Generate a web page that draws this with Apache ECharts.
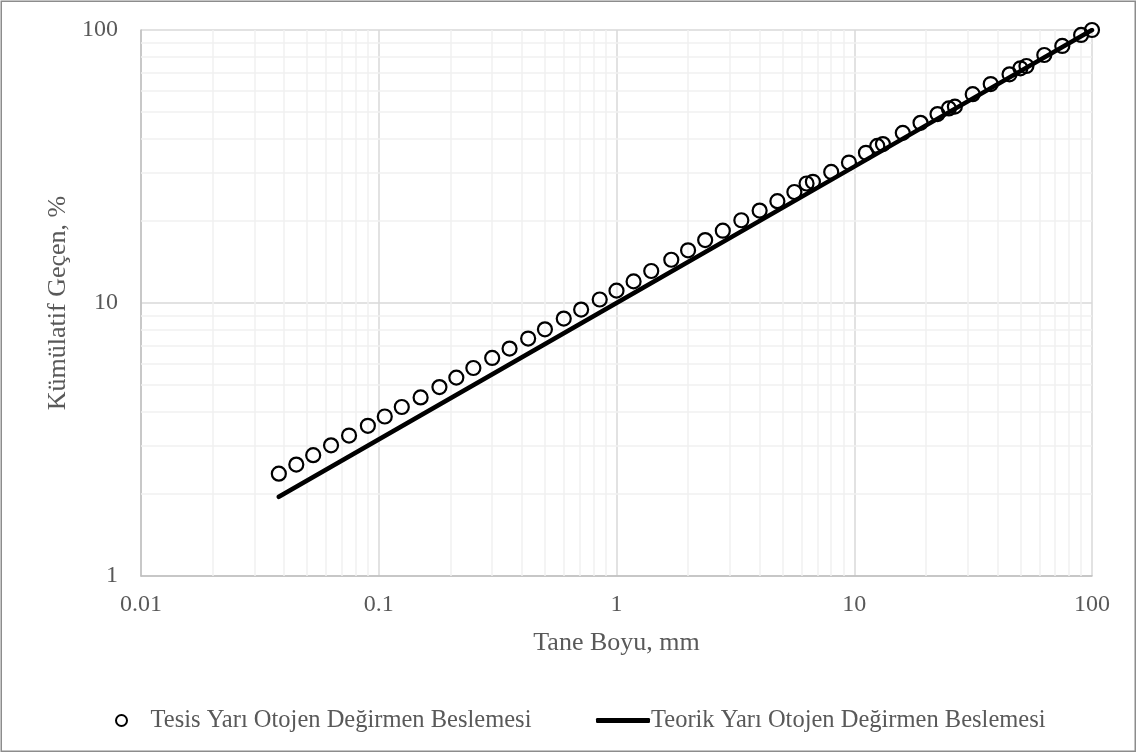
<!DOCTYPE html>
<html>
<head>
<meta charset="utf-8">
<script src="https://cdn.jsdelivr.net/npm/echarts@6/dist/echarts.min.js"></script>
<style>
html,body{margin:0;padding:0;background:#fff;}
#chart{width:1136px;height:752px;}
</style>
</head>
<body>
<div id="chart"></div>
<script>
// Particle sizes (mm) of the plant feed sieve analysis
var sizesPlant = [0.038, 0.045, 0.053, 0.063, 0.075, 0.090, 0.106, 0.125, 0.150, 0.180, 0.212,
  0.250, 0.300, 0.355, 0.425, 0.500, 0.600, 0.710, 0.850, 1.00, 1.18, 1.40, 1.70, 2.00, 2.36,
  2.80, 3.35, 4.00, 4.75, 5.60, 6.30, 6.70, 8.00, 9.50, 11.2, 12.5, 13.2, 16.0, 19.0, 22.4,
  25.0, 26.5, 31.5, 37.5, 45.0, 50.0, 53.0, 63.0, 75.0, 90.0, 100];
// Cumulative passing (%) of the plant feed
var passPlant = [2.37, 2.56, 2.77, 3.01, 3.27, 3.55, 3.84, 4.16, 4.51, 4.92, 5.33,
  5.78, 6.29, 6.81, 7.41, 8.01, 8.77, 9.46, 10.3, 11.1, 12.0, 13.1, 14.4, 15.6, 17.0,
  18.4, 20.1, 21.8, 23.6, 25.5, 27.4, 27.8, 30.2, 32.7, 35.5, 37.6, 38.2, 42.0, 45.7, 49.2,
  51.6, 52.4, 58.2, 63.4, 68.8, 72.4, 73.8, 81.0, 87.4, 95.9, 100];
// Theoretical curve points (mm, %)
var sizesTheory = [0.038, 1, 10, 100];
var passTheory = [1.95, 10, 31.6, 100];
// Axis tick labels
var xTickLabels = ['0.01', '0.1', '1', '10', '100'];
var yTickLabels = ['1', '10', '100'];
// Minor gridline positions
var minorX = [0.02, 0.03, 0.04, 0.05, 0.06, 0.07, 0.08, 0.09,
  0.2, 0.3, 0.4, 0.5, 0.6, 0.7, 0.8, 0.9,
  2, 3, 4, 5, 6, 7, 8, 9,
  20, 30, 40, 50, 60, 70, 80, 90];
var minorY = [2, 3, 4, 5, 6, 7, 8, 9, 20, 30, 40, 50, 60, 70, 80, 90];
var nameA = 'Tesis Yarı Otojen Değirmen Beslemesi';
var nameB = 'Teorik Yarı Otojen Değirmen Beslemesi';

var FONT = 'Liberation Serif';
var TXT = '#595959';

var plantData = sizesPlant.map(function (s, i) { return [s, passPlant[i]]; });
var theoryData = sizesTheory.map(function (s, i) { return [s, passTheory[i]]; });
var minorLines = minorX.map(function (v) { return { xAxis: v }; })
  .concat(minorY.map(function (v) { return { yAxis: v }; }));

function fmt(list) {
  return function (v) {
    for (var i = 0; i < list.length; i++) {
      if (Math.abs(Math.log10(v) - Math.log10(parseFloat(list[i]))) < 1e-6) return list[i];
    }
    return '';
  };
}

var chart = echarts.init(document.getElementById('chart'), null, { renderer: 'canvas' });
chart.setOption({
  animation: false,
  backgroundColor: '#fff',
  textStyle: { fontFamily: FONT },
  graphic: [{
    type: 'rect', left: 0.5, top: 0.5, z: -10,
    shape: { width: 1134, height: 750 },
    style: { fill: '#fff', stroke: '#8c8c8c', lineWidth: 1.5 }
  }],
  grid: { left: 141, right: 44, top: 30, bottom: 176, containLabel: false },
  xAxis: {
    type: 'log', logBase: 10, min: 0.01, max: 100,
    name: 'Tane Boyu, mm', nameLocation: 'middle', nameGap: 54,
    nameTextStyle: { fontFamily: FONT, fontSize: 26, color: TXT },
    axisLine: { show: true, lineStyle: { color: '#bfbfbf', width: 1.5 } },
    axisTick: { show: false },
    axisLabel: { margin: 17, fontFamily: FONT, fontSize: 24, color: TXT, formatter: fmt(xTickLabels) },
    splitLine: { show: true, lineStyle: { color: '#d9d9d9', width: 1.5 } },
    minorTick: { show: false }, minorSplitLine: { show: false }
  },
  yAxis: {
    type: 'log', logBase: 10, min: 1, max: 100,
    name: 'Kümülatif Geçen, %', nameLocation: 'middle', nameGap: 69,
    nameTextStyle: { fontFamily: FONT, fontSize: 26, color: TXT },
    axisLine: { show: true, lineStyle: { color: '#bfbfbf', width: 1.5 } },
    axisTick: { show: false },
    axisLabel: { margin: 23, fontFamily: FONT, fontSize: 24, color: TXT, formatter: fmt(yTickLabels) },
    splitLine: { show: true, lineStyle: { color: '#d9d9d9', width: 1.5 } },
    minorTick: { show: false }, minorSplitLine: { show: false }
  },
  legend: [{
    data: [{ name: nameA, icon: 'circle' }],
    left: 110, top: 703, itemWidth: 48, itemHeight: 11,
    textStyle: { fontFamily: FONT, fontSize: 24.5, color: TXT },
    itemStyle: { color: '#fff', borderColor: '#000', borderWidth: 2 }
  }, {
    data: [{ name: nameB, icon: 'roundRect' }],
    left: 591, top: 703, itemWidth: 54, itemHeight: 5,
    textStyle: { fontFamily: FONT, fontSize: 24.5, color: TXT, padding: [0, 0, 0, -4] },
    itemStyle: { color: '#000' }
  }],
  series: [{
    name: nameA,
    type: 'scatter',
    data: plantData,
    symbol: 'circle',
    symbolSize: 14,
    z: 3,
    itemStyle: { color: 'rgba(255,255,255,0)', borderColor: '#000', borderWidth: 2.2, opacity: 1 },
    markLine: {
      silent: true, symbol: 'none', z: 1, animation: false,
      label: { show: false },
      lineStyle: { color: '#f0f0f0', width: 1.5, type: 'solid' },
      emphasis: { disabled: true },
      data: minorLines
    }
  }, {
    name: nameB,
    type: 'line',
    data: theoryData,
    symbol: 'none',
    z: 2,
    lineStyle: { color: '#000', width: 4.5, cap: 'round' },
    itemStyle: { color: '#000' }
  }]
});
</script>
</body>
</html>
